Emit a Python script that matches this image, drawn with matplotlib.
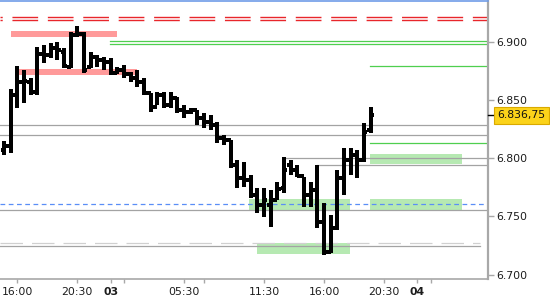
import matplotlib
matplotlib.use("Agg")
import matplotlib.pyplot as plt
from matplotlib.transforms import blended_transform_factory

# 30-minute OHLC bars (index 0 = first bar on the left)
opens = [6807.0, 6810.5, 6854.25, 6865.5, 6865.5, 6856.75, 6889.5, 6888.5, 6894.75, 6891.25,
         6878.25, 6905.75, 6906.75, 6878.25, 6887.0, 6884.25, 6882.5, 6873.25, 6875.75, 6872.25,
         6869.0, 6865.5, 6856.0, 6844.0, 6854.25, 6845.75, 6851.75, 6841.5, 6839.75, 6841.5,
         6834.5, 6831.0, 6828.5, 6817.25, 6815.75, 6794.25, 6783.0, 6781.25, 6768.5, 6759.75,
         6759.75, 6764.0, 6774.5, 6794.25, 6790.0, 6784.75, 6768.5, 6772.75, 6745.25, 6719.5,
         6740.0, 6783.0, 6798.5, 6802.75, 6798.5, 6824.25]
highs = [6814.75, 6859.5, 6879.25, 6875.75, 6869.0, 6895.5, 6897.25, 6899.0, 6899.75, 6894.75,
         6908.5, 6913.5, 6908.5, 6891.25, 6888.5, 6887.0, 6886.0, 6878.25, 6880.0, 6874.0,
         6875.75, 6869.0, 6856.0, 6856.75, 6856.75, 6856.75, 6852.5, 6845.75, 6843.0, 6841.5,
         6838.75, 6837.0, 6831.0, 6820.0, 6815.75, 6798.5, 6796.75, 6785.5, 6774.5, 6774.5,
         6772.75, 6779.5, 6801.0, 6798.5, 6794.25, 6783.75, 6779.5, 6794.25, 6761.5, 6751.25,
         6790.0, 6808.75, 6808.75, 6807.0, 6830.25, 6844.0]
lows = [6802.75, 6804.5, 6843.0, 6847.5, 6854.25, 6854.25, 6881.75, 6886.0, 6884.25, 6877.5,
        6877.5, 6904.0, 6873.25, 6877.5, 6878.25, 6875.75, 6871.5, 6872.25, 6869.0, 6865.5,
        6861.25, 6854.25, 6839.75, 6845.75, 6843.0, 6843.0, 6838.75, 6834.5, 6838.0, 6828.5,
        6826.0, 6824.25, 6813.0, 6811.25, 6791.5, 6774.5, 6775.25, 6765.75, 6753.0, 6749.5,
        6741.0, 6764.0, 6770.0, 6785.5, 6783.75, 6758.0, 6758.0, 6740.0, 6717.0, 6718.5,
        6738.25, 6768.5, 6785.5, 6783.0, 6796.75, 6821.75]
closes = [6810.5, 6854.25, 6865.5, 6866.25, 6856.75, 6889.5, 6888.5, 6894.75, 6893.0, 6879.25,
          6905.75, 6906.75, 6875.75, 6887.0, 6884.25, 6882.5, 6873.25, 6875.75, 6872.25, 6869.0,
          6865.5, 6856.0, 6844.0, 6854.25, 6845.75, 6851.75, 6841.5, 6839.75, 6841.5, 6834.5,
          6831.0, 6828.5, 6817.25, 6815.75, 6794.25, 6783.0, 6781.25, 6768.5, 6759.75, 6764.0,
          6764.0, 6773.5, 6790.0, 6790.0, 6784.75, 6768.5, 6772.75, 6745.25, 6719.5, 6740.0,
          6783.0, 6798.5, 6802.75, 6798.5, 6822.5, 6836.75]
last_price = 6836.75
last_label = "6.836,75"

# time axis (bar index -> label)
xtick_pos = [2, 11, 16, 18, 27, 30, 39, 48, 57, 62, 64]
xtick_lab = ["16:00", "20:30", "03", "", "05:30", "", "11:30", "16:00", "20:30", "04", ""]
day_labels = ["03", "04"]

ytick_vals = [6700, 6750, 6800, 6850, 6900]
ytick_lab = ["6.700", "6.750", "6.800", "6.850", "6.900"]

# levels drawn across the chart
red_levels = [6921.0, 6918.75]
green_levels = [6900.25, 6897.75]          # from bar 15.9 on
green_right_levels = [6879.0, 6812.75]     # from bar 54.9 on
gray_levels = [6828.25, 6819.75, 6755.25]  # full width
gray_partial = [(6800.0, 42.0), (6794.0, 46.9)]
gray_low = 6724.5
gray_low_dash = 6727.0
blue_level = 6760.75

# zones: (bar start, bar end, price low, price high)
pink_zones = [(1.05, 16.9, 6904.25, 6909.25), (2.25, 19.9, 6871.5, 6876.25)]
green_zones = [(36.8, 51.9, 6755.5, 6765.0), (54.9, 68.7, 6755.5, 6765.0),
               (54.9, 68.7, 6795.0, 6803.5), (37.95, 51.9, 6717.75, 6727.25)]

fig = plt.figure(figsize=(5.5, 3.0), dpi=100)
ax = fig.add_axes([0.0, 21 / 300, 487.7 / 550, 278 / 300])
x0, x1 = -0.6, 72.55
ax.set_xlim(x0, x1)
ax.set_ylim(6696.3, 6935.0)

for a, b, lo, hi in pink_zones:
    ax.fill_between([a, b], lo, hi, color="#ff9a9a", lw=0, zorder=1)
for a, b, lo, hi in green_zones:
    ax.fill_between([a, b], lo, hi, color="#b6e9b2", lw=0, zorder=1)

for lv in red_levels:
    ax.plot([x0, x1], [lv, lv], color="#e8262b", lw=1.0, linestyle=(16.9, (18.5, 7)),
            dash_capstyle="butt", zorder=2)
for lv in green_levels:
    ax.plot([15.9, x1], [lv, lv], color="#4fcf4f", lw=0.9, zorder=2)
for lv in green_right_levels:
    ax.plot([54.9, x1], [lv, lv], color="#4fcf4f", lw=0.9, zorder=2)
for lv in gray_levels:
    ax.plot([x0, x1], [lv, lv], color="#a3a3a3", lw=0.9, zorder=2)
for lv, start in gray_partial:
    ax.plot([start, x1], [lv, lv], color="#a3a3a3", lw=0.9, zorder=2)
ax.plot([x0, 71.4], [gray_low, gray_low], color="#a3a3a3", lw=0.9, zorder=2)
ax.plot([x0, 71.4], [gray_low_dash, gray_low_dash], color="#d0d0d0", lw=0.9,
        dashes=(18, 7.2), zorder=2)
ax.plot([x0, x1], [blue_level, blue_level], color="#5a8ef7", lw=0.9,
        dashes=(3.8, 2.8), zorder=2)

# OHLC bars
xs = list(range(len(opens)))
tick = 0.5
ax.vlines(xs, lows, highs, color="black", lw=1.6, antialiased=False, zorder=4)
ax.hlines(opens, [x - tick for x in xs], xs, color="black", lw=1.6, antialiased=False, zorder=4)
ax.hlines(closes, xs, [x + tick for x in xs], color="black", lw=1.6, antialiased=False, zorder=4)

# frame
ax.spines["left"].set_visible(False)
ax.spines["top"].set_color("#6f9ce8")
ax.spines["top"].set_linewidth(1.2)
ax.spines["right"].set_color("#a8a8a8")
ax.spines["right"].set_linewidth(1.6)
ax.spines["bottom"].set_color("#a8a8a8")
ax.spines["bottom"].set_linewidth(1.2)

ax.yaxis.tick_right()
ax.set_yticks(ytick_vals)
ax.set_yticklabels(ytick_lab)
ax.set_xticks(xtick_pos)
ax.set_xticklabels(xtick_lab)
ax.tick_params(axis="y", colors="#a8a8a8", labelcolor="#1c1c1c", length=4, width=1, pad=2.5,
               labelsize=7.8)
ax.tick_params(axis="x", colors="#a8a8a8", labelcolor="#1c1c1c", length=3, width=1, pad=3,
               labelsize=7.8)
for lab in ax.get_xticklabels():
    if lab.get_text() in day_labels:
        lab.set_fontweight("bold")

# last price marker on the price scale
tr = blended_transform_factory(ax.transAxes, ax.transData)
ax.plot([1.0, 1.012], [last_price, last_price], color="black", lw=1.0, transform=tr,
        clip_on=False, zorder=6)
ax.annotate(last_label, xy=(1.0, last_price), xycoords=tr, xytext=(6.8, 0),
            textcoords="offset points", ha="left", va="center", fontsize=7.8, color="#111111",
            bbox=dict(boxstyle="square,pad=0.3", fc="#fbd31a", ec="#d9a900", lw=0.8),
            annotation_clip=False, zorder=7)

fig.savefig("out.png", dpi=100)
